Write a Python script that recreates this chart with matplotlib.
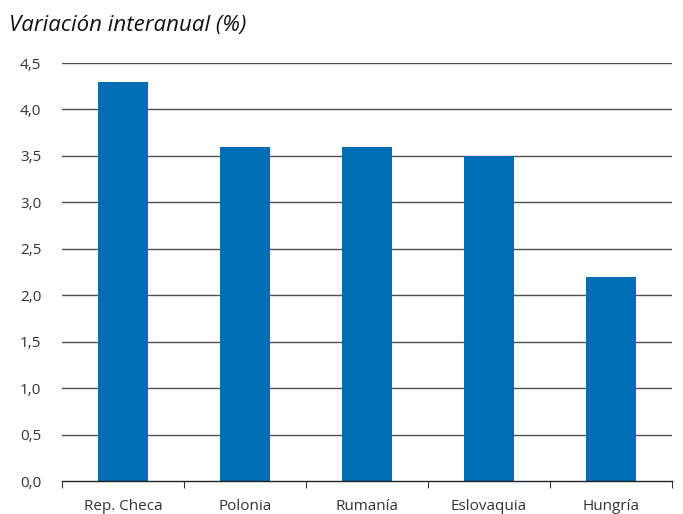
#!/usr/bin/env python3

import matplotlib.pyplot as plt
import numpy as np

plt.rcParams['font.family'] = ['Open Sans', 'DejaVu Sans']

countries = ["Rep. Checa", "Polonia", "Rumanía", "Eslovaquia", "Hungría"]
growth = [4.3, 3.6, 3.6, 3.5, 2.2]
y_ticks = [0.0, 0.5, 1.0, 1.5, 2.0, 2.5, 3.0, 3.5, 4.0, 4.5]

BAR_COLOR = "#006db7"


def main():
    '''
    Bar chart of year-on-year variation by country
    '''
    fig = plt.figure(figsize=(6.83, 5.14), dpi=100)
    ax = fig.add_axes([0.0908, 0.0642, 0.8932, 0.8132])

    x = np.arange(len(countries))
    ax.bar(x, growth, width=0.41, color=BAR_COLOR, zorder=3)

    # Horizontal grid lines
    for val in y_ticks[1:]:
        ax.axhline(val, color="#4d4d4d", linewidth=1.0, zorder=1)

    ax.set_xlim(-0.5, len(countries) - 0.5)
    ax.set_ylim(0, 4.5)
    ax.set_yticks(y_ticks)
    ax.set_yticklabels([f"{v:.1f}".replace(".", ",") for v in y_ticks],
                       fontsize=11, color="#333333")
    ax.tick_params(axis="y", length=0, pad=15)

    # Category labels, ticks at the boundaries
    ax.set_xticks(np.arange(len(countries) + 1) - 0.5, minor=False)
    ax.set_xticklabels([])
    ax.tick_params(axis="x", direction="out", length=5, color="#333333")
    ax.set_xticks(x, minor=True)
    ax.set_xticklabels(countries, minor=True, fontsize=11, color="#333333")
    ax.tick_params(axis="x", which="minor", length=0, pad=13)

    for side in ["top", "right", "left"]:
        ax.spines[side].set_visible(False)
    ax.spines["bottom"].set_color("#222222")
    ax.spines["bottom"].set_linewidth(1.0)
    ax.spines["bottom"].set_zorder(4)

    fig.text(0.013, 0.951, "Variación interanual (%)", fontsize=16,
             style="italic", color="#111111", va="center", ha="left")

    plt.savefig("out.png", dpi=100)


if __name__ == '__main__':
    main()
